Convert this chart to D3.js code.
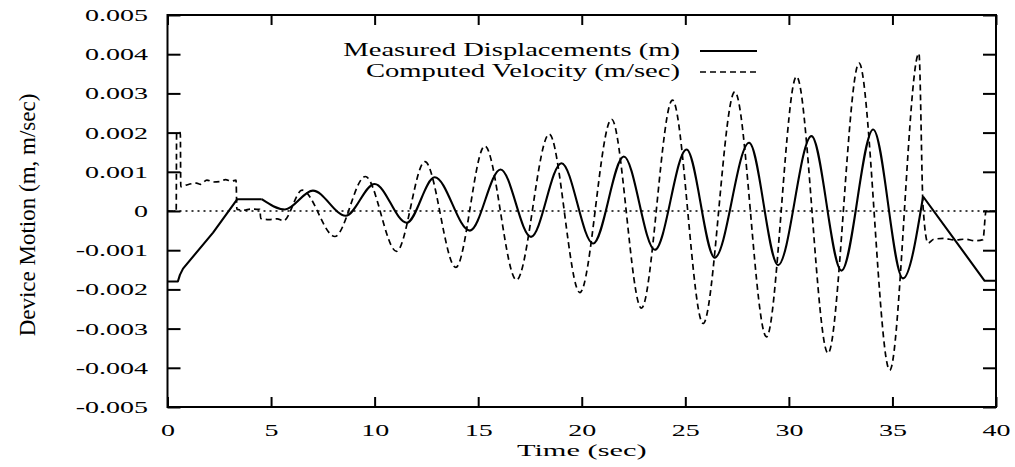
<!DOCTYPE html>
<html>
<head>
<meta charset="utf-8">
<script src="https://cdn.jsdelivr.net/npm/d3@7"></script>
<style>
  html, body { margin: 0; padding: 0; background: #fff; }
  svg { display: block; }
  text { font-family: "Liberation Serif", "Times New Roman", serif; fill: #000; }
</style>
</head>
<body>
<div id="chart"></div>
<script>
// axis ticks
const xTicks = [0, 5, 10, 15, 20, 25, 30, 35, 40];
const yTicks = [-0.005, -0.004, -0.003, -0.002, -0.001, 0, 0.001, 0.002, 0.003, 0.004, 0.005];
const yTickLabels = ['-0.005', '-0.004', '-0.003', '-0.002', '-0.001', '0', '0.001', '0.002', '0.003', '0.004', '0.005'];

// Measured displacements (m)
const dispTime = [0, 0.5, 0.6, 0.75, 2.2, 3.37, 4.55, 5.67, 7.02, 8.6, 10.0, 11.55, 12.9, 14.6, 16.08,
  17.55, 19.02, 20.55, 22.03, 23.53, 25.06, 26.42, 28.08, 29.48, 31.09, 32.54, 34.07, 35.51, 36.48,
  38.0, 39.45, 40];
const dispValue = [-0.0018, -0.0018, -0.00163, -0.00147, -0.00055, 0.0003, 0.0003, 0.00004, 0.00052,
  -0.00012, 0.00069, -0.0003, 0.00086, -0.0005, 0.00106, -0.00066, 0.00122, -0.00083, 0.00139,
  -0.00099, 0.00157, -0.00119, 0.00174, -0.00138, 0.00191, -0.00152, 0.00208, -0.00172, 0.00037,
  -0.00073, -0.00178, -0.00178];

// Computed velocity (m/sec)
const velTime = [0, 0.42, 0.44, 0.62, 0.64, 0.9, 1.4, 1.6, 1.9, 2.2, 2.53, 2.8, 3.1, 3.31, 3.35, 3.7,
  4.0, 4.46, 4.5, 4.9, 5.3, 5.59, 6.5, 8.08, 9.55, 11.06, 12.43, 13.92, 15.32, 16.85, 18.43, 19.91,
  21.44, 22.88, 24.38, 25.86, 27.39, 28.92, 30.37, 31.89, 33.39, 34.87, 36.28, 36.48, 36.72, 37.0,
  37.5, 38.0, 38.5, 39.0, 39.37, 39.52, 40];
const velValue = [0, 0, 0.002, 0.002, 0.00062, 0.00066, 0.00071, 0.00068, 0.00079, 0.00074, 0.00075,
  0.0008, 0.00076, 0.00079, 0.00004, 0.00002, 0.00005, 0.00004, -0.00019, -0.00022, -0.0002, -0.00025,
  0.00053, -0.00065, 0.00088, -0.00103, 0.00126, -0.00144, 0.00166, -0.00176, 0.00196, -0.00208,
  0.00234, -0.00248, 0.00283, -0.00287, 0.00304, -0.00321, 0.00343, -0.00363, 0.00377, -0.00406,
  0.00402, 0.0001, -0.00082, -0.00072, -0.0007, -0.00074, -0.00072, -0.00076, -0.00073, 0, 0];

const seriesNames = ['Measured Displacements (m)', 'Computed Velocity (m/sec)'];

const width = 1015;
const height = 467;
const margin = { top: 15, right: 19, bottom: 60, left: 167.5 };
const stretch = 1.75; // tick labels are drawn wide in the original

const svg = d3.select('#chart')
  .append('svg')
  .attr('width', width)
  .attr('height', height);

const x = d3.scaleLinear().domain([0, 40]).range([margin.left, width - margin.right]);
const y = d3.scaleLinear().domain([-0.005, 0.005]).range([height - margin.bottom, margin.top]);

// zero line
svg.append('line')
  .attr('x1', x(0)).attr('x2', x(40))
  .attr('y1', y(0)).attr('y2', y(0))
  .attr('stroke', '#000')
  .attr('stroke-width', 1.3)
  .attr('stroke-dasharray', '2 4');

// Bottom axis (ticks point inward)
svg.append('g')
  .attr('transform', `translate(0,${y(-0.005)})`)
  .call(d3.axisBottom(x).tickValues(xTicks).tickSize(-10).tickSizeOuter(0).tickFormat(d3.format('d')))
  .call((g) => g.select('.domain').remove())
  .call((g) => g.selectAll('.tick line').attr('stroke-width', 2))
  .call((g) => g.selectAll('.tick text')
    .attr('y', 29.5).attr('dy', null)
    .attr('font-size', 16)
    .attr('transform', `scale(${stretch},1)`));

// Top ticks
svg.append('g')
  .attr('transform', `translate(0,${y(0.005)})`)
  .call(d3.axisTop(x).tickValues(xTicks).tickSize(-10).tickSizeOuter(0).tickFormat(''))
  .call((g) => g.select('.domain').remove())
  .call((g) => g.selectAll('.tick line').attr('stroke-width', 2));

// Left axis
svg.append('g')
  .attr('transform', `translate(${x(0)},0)`)
  .call(d3.axisLeft(y).tickValues(yTicks).tickSize(-13).tickSizeOuter(0)
    .tickFormat((d, i) => yTickLabels[i]))
  .call((g) => g.select('.domain').remove())
  .call((g) => g.selectAll('.tick line').attr('stroke-width', 2))
  .call((g) => g.selectAll('.tick text')
    .attr('x', -19.5 / stretch).attr('dy', '0.34em')
    .attr('font-size', 16)
    .attr('transform', `scale(${stretch},1)`));

// Right ticks
svg.append('g')
  .attr('transform', `translate(${x(40)},0)`)
  .call(d3.axisRight(y).tickValues(yTicks).tickSize(-13).tickSizeOuter(0).tickFormat(''))
  .call((g) => g.select('.domain').remove())
  .call((g) => g.selectAll('.tick line').attr('stroke-width', 2));

// frame
svg.append('rect')
  .attr('x', x(0)).attr('y', y(0.005))
  .attr('width', x(40) - x(0)).attr('height', y(-0.005) - y(0.005))
  .attr('fill', 'none')
  .attr('stroke', '#000')
  .attr('stroke-width', 2);

// lines
const dispData = dispTime.map((t, i) => [t, dispValue[i]]);
const velData = velTime.map((t, i) => [t, velValue[i]]);

const smooth = d3.line()
  .x((d) => x(d[0]))
  .y((d) => y(d[1]))
  .curve(d3.curveMonotoneX);

const straight = d3.line()
  .x((d) => x(d[0]))
  .y((d) => y(d[1]));

svg.append('path')
  .attr('fill', 'none')
  .attr('stroke', '#000')
  .attr('stroke-width', 1.7)
  .attr('stroke-dasharray', '6 4')
  .attr('d', smooth(velData));

// displacement: straight ramps at both ends, smooth oscillation in between
const rampEnd = dispTime.indexOf(4.55);
const rampStart = dispTime.indexOf(36.48);
const dispPieces = [
  straight(dispData.slice(0, rampEnd + 1)),
  smooth(dispData.slice(rampEnd, rampStart + 1)),
  straight(dispData.slice(rampStart))
];
svg.selectAll('.disp')
  .data(dispPieces)
  .join('path')
  .attr('class', 'disp')
  .attr('fill', 'none')
  .attr('stroke', '#000')
  .attr('stroke-width', 2.1)
  .attr('stroke-linejoin', 'round')
  .attr('d', (d) => d);

// Legend
const legend = svg.append('g');
const legendRows = [
  { name: seriesNames[0], y: 51, dash: null, width: 2.1 },
  { name: seriesNames[1], y: 72, dash: '6 4', width: 1.7 }
];
legendRows.forEach((r) => {
  legend.append('text')
    .attr('transform', `translate(680,${r.y + 5}) scale(1.59,1)`)
    .attr('text-anchor', 'end')
    .attr('font-size', 18)
    .text(r.name);
  legend.append('line')
    .attr('x1', 700).attr('x2', 757)
    .attr('y1', r.y).attr('y2', r.y)
    .attr('stroke', '#000')
    .attr('stroke-width', r.width)
    .attr('stroke-dasharray', r.dash);
});

// Axis titles
svg.append('text')
  .attr('transform', `translate(${(x(0) + x(40)) / 2},456) scale(1.9,1)`)
  .attr('text-anchor', 'middle')
  .attr('font-size', 16)
  .text('Time (sec)');

svg.append('text')
  .attr('transform', `translate(35,${y(0) + 4}) rotate(-90)`)
  .attr('text-anchor', 'middle')
  .attr('font-size', 23)
  .text('Device Motion (m, m/sec)');
</script>
</body>
</html>
